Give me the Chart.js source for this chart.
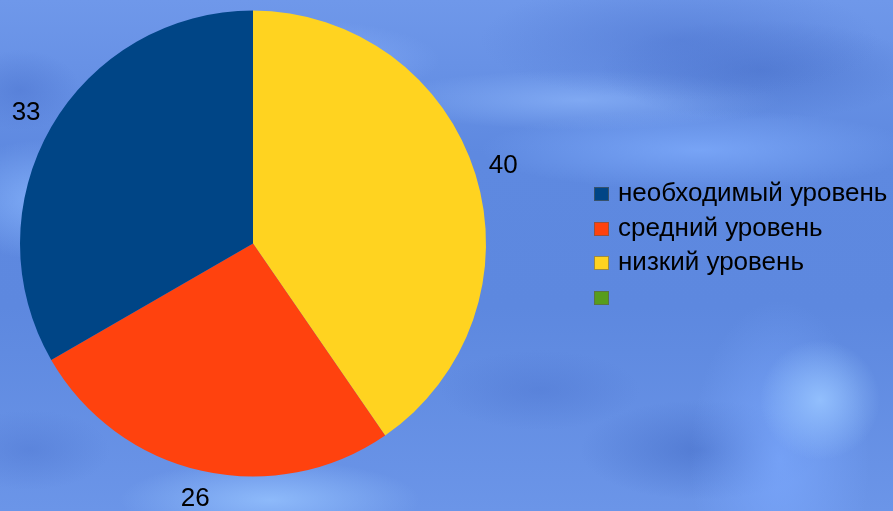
<!DOCTYPE html>
<html>
<head>
<meta charset="utf-8">
<script src="https://cdn.jsdelivr.net/npm/chart.js@4/dist/chart.umd.min.js"></script>
<style>
html,body{margin:0;padding:0;width:893px;height:511px;overflow:hidden;}
#bg{position:absolute;left:0;top:0;width:893px;height:511px;
background:
 radial-gradient(ellipse 140px 40px at 300px 60px, rgba(140,180,255,0.7), rgba(140,180,255,0) 100%),
 radial-gradient(ellipse 200px 60px at 680px 40px, rgba(80,120,210,0.6), rgba(80,120,210,0) 100%),
 radial-gradient(ellipse 160px 50px at 760px 70px, rgba(70,110,200,0.6), rgba(70,110,200,0) 100%),
 radial-gradient(ellipse 220px 40px at 700px 150px, rgba(130,175,255,0.7), rgba(130,175,255,0) 100%),
 radial-gradient(ellipse 60px 60px at 820px 400px, rgba(150,195,255,0.9), rgba(150,195,255,0) 100%),
 radial-gradient(ellipse 90px 160px at 780px 460px, rgba(125,170,255,0.7), rgba(125,170,255,0) 100%),
 radial-gradient(ellipse 120px 50px at 700px 450px, rgba(70,110,200,0.6), rgba(70,110,200,0) 100%),
 radial-gradient(ellipse 100px 40px at 540px 390px, rgba(80,120,210,0.5), rgba(80,120,210,0) 100%),
 radial-gradient(ellipse 200px 30px at 580px 100px, rgba(150,190,255,0.55), rgba(150,190,255,0) 100%),
 radial-gradient(ellipse 90px 60px at 40px 200px, rgba(140,185,255,0.7), rgba(140,185,255,0) 100%),
 radial-gradient(ellipse 60px 40px at 20px 90px, rgba(80,120,210,0.6), rgba(80,120,210,0) 100%),
 radial-gradient(ellipse 150px 40px at 270px 500px, rgba(150,195,255,0.8), rgba(150,195,255,0) 100%),
 radial-gradient(ellipse 80px 40px at 30px 450px, rgba(80,120,210,0.5), rgba(80,120,210,0) 100%),
 linear-gradient(180deg, #6f98ea 0%, #5e89e0 30%, #5d88df 60%, #6b95e8 100%);
}
#wrap{position:absolute;left:0;top:0;width:893px;height:511px;}
</style>
</head>
<body>
<div id="bg"></div>
<div id="wrap"><canvas id="c" width="893" height="511"></canvas></div>
<script>
// Data (legend order)
const categories = ['необходимый уровень', 'средний уровень', 'низкий уровень', ''];
const values = [33, 26, 40, 0];
const colors = ['#004586', '#ff420e', '#ffd320', '#579d1c'];

// The reference draws slices counter-clockwise from 12 o'clock;
// Chart.js draws clockwise, so feed the series in reverse order.
const order = categories.map((_, i) => i).reverse();

const FONT = '"Liberation Sans", Arial, sans-serif';

const outsideLabels = {
  id: 'outsideLabels',
  afterDatasetsDraw(chart) {
    const ctx = chart.ctx;
    const meta = chart.getDatasetMeta(0);
    ctx.save();
    ctx.font = '26px ' + FONT;
    ctx.fillStyle = '#000';
    ctx.textAlign = 'center';
    ctx.textBaseline = 'middle';
    meta.data.forEach((arc, i) => {
      const v = chart.data.datasets[0].data[i];
      if (!v) return;
      const p = arc.getProps(['x', 'y', 'startAngle', 'endAngle', 'outerRadius'], true);
      const a = (p.startAngle + p.endAngle) / 2;
      const d = p.outerRadius + 29;
      ctx.fillText(String(v), p.x + Math.cos(a) * d, p.y + Math.sin(a) * d);
    });
    ctx.restore();
  }
};

const customLegend = {
  id: 'customLegend',
  afterDraw(chart) {
    const ctx = chart.ctx;
    ctx.save();
    ctx.font = '26px ' + FONT;
    ctx.textAlign = 'left';
    ctx.textBaseline = 'alphabetic';
    const x0 = 594, base0 = 201, step = 34.5, box = 14;
    categories.forEach((c, i) => {
      const base = Math.round(base0 + i * step);
      ctx.fillStyle = colors[i];
      ctx.fillRect(x0, base - box, 15, box);
      ctx.strokeStyle = 'rgba(90,90,90,0.6)';
      ctx.lineWidth = 1;
      ctx.strokeRect(x0 + 0.5, base - box + 0.5, 14, box - 1);
      ctx.fillStyle = '#000';
      ctx.fillText(c, 618, base);
    });
    ctx.restore();
  }
};

new Chart(document.getElementById('c'), {
  type: 'pie',
  data: {
    labels: order.map(i => categories[i]),
    datasets: [{
      data: order.map(i => values[i]),
      backgroundColor: order.map(i => colors[i]),
      borderWidth: 0
    }]
  },
  options: {
    responsive: false,
    animation: false,
    layout: { padding: { left: 20, right: 407, top: 10.5, bottom: 34.5 } },
    plugins: {
      legend: { display: false },
      tooltip: { enabled: false }
    }
  },
  plugins: [outsideLabels, customLegend]
});
</script>
</body>
</html>
